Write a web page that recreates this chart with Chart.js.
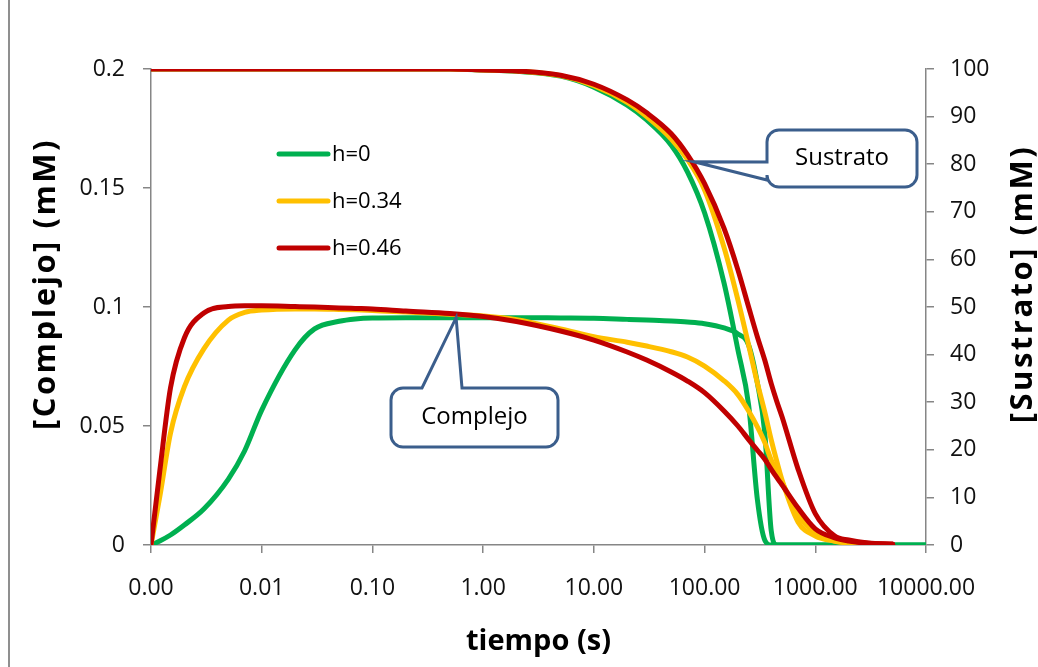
<!DOCTYPE html>
<html>
<head>
<meta charset="utf-8">
<script src="https://cdn.jsdelivr.net/npm/chart.js@4.4.1/dist/chart.umd.min.js"></script>
<style>
  html, body { margin: 0; padding: 0; background: #fff; }
  #wrap { width: 1038px; height: 667px; position: relative; }
</style>
</head>
<body>
<div id="wrap"><canvas id="grafico" width="1038" height="667"></canvas></div>
<script>
// Tiempo de simulación (s)
const tiempo = [0.001, 0.0012, 0.0015, 0.002, 0.003, 0.005, 0.007, 0.01, 0.02, 0.03, 0.05, 0.07,
  0.1, 0.2, 0.5, 1, 2, 5, 10, 20, 30, 50, 70, 100, 150, 200, 250, 300, 350, 400, 450, 500,
  700, 1000, 1500, 2000, 3000, 5000, 10000];

// [Complejo] (mM), eje izquierdo
const complejoH0 = [0, 0.0017, 0.0042, 0.0084, 0.0151, 0.0277, 0.0395, 0.0567, 0.082, 0.0908, 0.094, 0.095,
  0.0954, 0.0955, 0.0955, 0.0955, 0.0955, 0.0954, 0.0953, 0.0948, 0.0945, 0.0941, 0.0937, 0.093,
  0.0912, 0.0887, 0.084, 0.068, 0.047, 0.006, 0, 0, 0, 0, 0, 0, 0, 0, 0];
const complejoH034 = [0, 0.0202, 0.047, 0.0664, 0.0824, 0.0945, 0.0977, 0.0987, 0.0992, 0.0992, 0.099, 0.0988,
  0.0985, 0.0979, 0.097, 0.0962, 0.0947, 0.0908, 0.0875, 0.0852, 0.0836, 0.0812, 0.079, 0.0752,
  0.069, 0.0632, 0.0563, 0.0496, 0.043, 0.0357, 0.031, 0.0265, 0.0126, 0.005, 0.0017, 0.0008, 0.0002, null, null];
const complejoH046 = [0, 0.031, 0.066, 0.087, 0.0975, 0.1002, 0.1005, 0.1005, 0.1002, 0.1, 0.0996, 0.0994,
  0.0992, 0.0983, 0.0973, 0.096, 0.0939, 0.0899, 0.0861, 0.0811, 0.0777, 0.0727, 0.0689, 0.064,
  0.0563, 0.05, 0.0443, 0.0398, 0.036, 0.0318, 0.0283, 0.0253, 0.0155, 0.0068, 0.003, 0.0017, 0.0007, 0.0003, null];

// [Sustrato] (mM), eje derecho
const sustratoH0 = [100, 100, 100, 100, 100, 100, 100, 100, 100, 100, 100, 100, 100, 100, 100,
  99.8, 99.5, 98.5, 96.2, 92.4, 89.3, 84, 78.4, 69.8, 55, 41, 29.4, 9.5, 1, 0, 0, 0, 0, 0, 0, 0, 0, 0, 0];
const sustratoH034 = [100, 100, 100, 100, 100, 100, 100, 100, 100, 100, 100, 100, 100, 100, 100,
  99.8, 99.6, 98.6, 96.5, 93, 90, 85.3, 81, 74.6, 62.5, 51.5, 42, 34, 27.9, 22.1, 17.5, 13.7,
  4.8, 1.9, 0.8, 0.4, 0.1, null, null];
const sustratoH046 = [100, 100, 100, 100, 100, 100, 100, 100, 100, 100, 100, 100, 100, 100, 100,
  99.8, 99.6, 98.7, 96.8, 93.5, 90.8, 86.4, 82, 75.9, 66.5, 57.8, 50, 43.7, 38.8, 33.9, 30.1, 27,
  15.9, 6.6, 1.9, 1.05, 0.4, 0.2, null];

const etiquetasSerie = ['h=0', 'h=0.34', 'h=0.46'];
const coloresSerie = ['#00B050', '#FFC000', '#C00000'];

// Marcas de los ejes
const ticksTiempo = [0.001, 0.01, 0.1, 1, 10, 100, 1000, 10000];
const ticksComplejo = [0, 0.05, 0.1, 0.15, 0.2];
const ticksSustrato = [0, 10, 20, 30, 40, 50, 60, 70, 80, 90, 100];

const FUENTE = "'Open Sans', 'DejaVu Sans', sans-serif";
const GRIS_EJE = '#868686';
const AZUL_GLOBO = '#3B5E8C';

function puntos(valores) {
  return tiempo.map((t, i) => ({ x: t, y: valores[i] }));
}

function serie(label, valores, color, eje, orden) {
  return {
    label, data: puntos(valores), yAxisID: eje, order: orden,
    borderColor: color, backgroundColor: color, borderWidth: 5,
    pointRadius: 0, pointHoverRadius: 0, fill: false,
    cubicInterpolationMode: 'monotone', borderCapStyle: 'round', borderJoinStyle: 'round',
    spanGaps: false
  };
}

const datasets = [
  serie(etiquetasSerie[0], complejoH0, coloresSerie[0], 'yC', 2),
  serie(etiquetasSerie[1], complejoH034, coloresSerie[1], 'yC', 1),
  serie(etiquetasSerie[2], complejoH046, coloresSerie[2], 'yC', 0),
  serie(etiquetasSerie[0], sustratoH0, coloresSerie[0], 'yS', 2),
  serie(etiquetasSerie[1], sustratoH034, coloresSerie[1], 'yS', 1),
  serie(etiquetasSerie[2], sustratoH046, coloresSerie[2], 'yS', 0)
];

// Globos de texto que señalan cada familia de curvas
const globos = [
  { texto: 'Sustrato', eje: 'yS', t: 80, v: 80.5,
    caja: { x: 767, y: 130, w: 150, h: 57 }, lado: 'left', a: 180, b: 162 },
  { texto: 'Complejo', eje: 'yC', t: 0.57, v: 0.0955,
    caja: { x: 391, y: 388, w: 167, h: 59 }, lado: 'top', a: 422, b: 462 }
];

function trazarGlobo(ctx, c, r, lado, a, b, punta) {
  const x2 = c.x + c.w, y2 = c.y + c.h;
  ctx.beginPath();
  ctx.moveTo(c.x + r, c.y);
  if (lado === 'top') { ctx.lineTo(a, c.y); ctx.lineTo(punta.x, punta.y); ctx.lineTo(b, c.y); }
  ctx.lineTo(x2 - r, c.y);
  ctx.arcTo(x2, c.y, x2, c.y + r, r);
  ctx.lineTo(x2, y2 - r);
  ctx.arcTo(x2, y2, x2 - r, y2, r);
  ctx.lineTo(c.x + r, y2);
  ctx.arcTo(c.x, y2, c.x, y2 - r, r);
  if (lado === 'left') { ctx.lineTo(c.x, a); ctx.lineTo(punta.x, punta.y); ctx.lineTo(c.x, b); }
  ctx.lineTo(c.x, c.y + r);
  ctx.arcTo(c.x, c.y, c.x + r, c.y, r);
  ctx.closePath();
}

function tituloVertical(ctx, texto, x, y) {
  ctx.save();
  ctx.translate(x, y);
  ctx.rotate(-Math.PI / 2);
  ctx.font = 'bold 31px ' + FUENTE;
  ctx.fillStyle = '#000';
  ctx.textAlign = 'center';
  ctx.textBaseline = 'middle';
  if ('letterSpacing' in ctx) ctx.letterSpacing = '2.5px';
  ctx.fillText(texto, 0, 0);
  ctx.restore();
}

const decoracion = {
  id: 'decoracion',
  beforeDraw(chart) {
    const ctx = chart.ctx;
    ctx.save();
    ctx.strokeStyle = '#8f8f8f';
    ctx.lineWidth = 2;
    ctx.beginPath();
    ctx.moveTo(9, 0);
    ctx.lineTo(9, chart.height);
    ctx.stroke();
    ctx.restore();
  },
  afterDraw(chart) {
    const ctx = chart.ctx;
    const sx = chart.scales.x;

    // Leyenda dentro del área de trazado
    ctx.save();
    ctx.font = '22px ' + FUENTE;
    ctx.textBaseline = 'middle';
    ctx.textAlign = 'left';
    for (let i = 0; i < 3; i++) {
      const ds = chart.data.datasets[i];
      const y = 154 + i * 47;
      ctx.strokeStyle = ds.borderColor;
      ctx.lineWidth = 5;
      ctx.lineCap = 'round';
      ctx.beginPath();
      ctx.moveTo(279, y);
      ctx.lineTo(328, y);
      ctx.stroke();
      ctx.fillStyle = '#000';
      ctx.fillText(ds.label, 332, y + 1);
    }
    ctx.restore();

    // Globos
    globos.forEach(g => {
      const punta = {
        x: sx.getPixelForValue(g.t),
        y: chart.scales[g.eje].getPixelForValue(g.v)
      };
      ctx.save();
      trazarGlobo(ctx, g.caja, 12, g.lado, g.a, g.b, punta);
      ctx.fillStyle = '#fff';
      ctx.fill();
      ctx.lineWidth = 3;
      ctx.lineJoin = 'miter';
      ctx.strokeStyle = AZUL_GLOBO;
      ctx.stroke();
      ctx.fillStyle = '#000';
      ctx.font = '24px ' + FUENTE;
      ctx.textAlign = 'center';
      ctx.textBaseline = 'middle';
      ctx.fillText(g.texto, g.caja.x + g.caja.w / 2, g.caja.y + g.caja.h / 2);
      ctx.restore();
    });

    // Títulos de los ejes verticales
    tituloVertical(ctx, '[Complejo] (mM)', 46, 284);
    tituloVertical(ctx, '[Sustrato] (mM)', 1023, 284);
  }
};

const ejeComun = {
  grid: { drawOnChartArea: false, drawTicks: true, tickLength: 8, color: GRIS_EJE, lineWidth: 1.5 },
  border: { display: true, color: GRIS_EJE, width: 1.5 }
};

new Chart(document.getElementById('grafico'), {
  type: 'line',
  data: { datasets },
  plugins: [decoracion],
  options: {
    responsive: false,
    animation: false,
    devicePixelRatio: 1,
    layout: { padding: { top: 69, right: 0, bottom: 0, left: 0 } },
    plugins: { legend: { display: false }, tooltip: { enabled: false } },
    scales: {
      x: {
        ...ejeComun,
        type: 'logarithmic',
        position: 'bottom',
        min: 0.001,
        max: 10000,
        afterBuildTicks: s => { s.ticks = ticksTiempo.map(v => ({ value: v })); },
        afterFit: s => { s.height = 122; },
        ticks: {
          autoSkip: false, maxRotation: 0, color: '#111', padding: 22,
          font: { family: FUENTE, size: 23 },
          callback: v => Number(v).toFixed(2)
        },
        title: {
          display: true, text: 'tiempo (s)', color: '#000',
          font: { family: FUENTE, size: 29, weight: 'bold' },
          padding: { top: 0, bottom: 8 }
        }
      },
      yC: {
        ...ejeComun,
        type: 'linear',
        position: 'left',
        min: 0,
        max: 0.2,
        afterBuildTicks: s => { s.ticks = ticksComplejo.map(v => ({ value: v })); },
        afterFit: s => { s.width = 151; },
        ticks: {
          color: '#111', padding: 18,
          font: { family: FUENTE, size: 23 },
          callback: v => String(Number(v.toFixed(2)))
        }
      },
      yS: {
        ...ejeComun,
        type: 'linear',
        position: 'right',
        min: 0,
        max: 100,
        afterBuildTicks: s => { s.ticks = ticksSustrato.map(v => ({ value: v })); },
        afterFit: s => { s.width = 112; },
        ticks: {
          color: '#111', padding: 16,
          font: { family: FUENTE, size: 23 },
          callback: v => String(v)
        }
      }
    }
  }
});
</script>
</body>
</html>
